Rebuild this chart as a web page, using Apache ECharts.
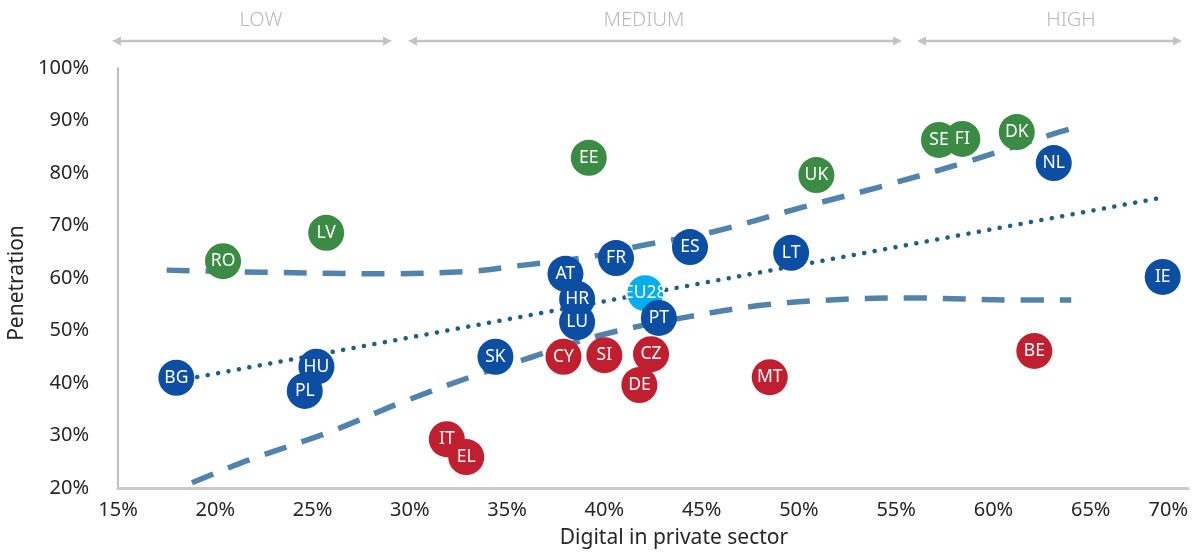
<!DOCTYPE html>
<html>
<head>
<meta charset="utf-8">
<script src="https://cdn.jsdelivr.net/npm/echarts@6/dist/echarts.min.js"></script>
<style>
  html, body { margin: 0; padding: 0; background: #ffffff; }
  #chart { width: 1203px; height: 553px; }
</style>
</head>
<body>
<div id="chart"></div>
<script>
// Country codes, in drawing order (later items sit on top)
const codes = ['BG','RO','LV','HU','PL','IT','EL','SK','EE','AT','HR','LU','CY','SI','FR','EU28','PT','CZ','DE','ES','MT','LT','UK','SE','FI','DK','NL','BE','IE'];
// Digital in private sector (%)
const digitalPrivate = [18.0,20.4,25.7,25.2,24.6,31.9,32.9,34.4,39.2,38.0,38.6,38.6,37.9,40.0,40.6,42.1,42.8,42.4,41.8,44.4,48.5,49.6,50.9,57.2,58.4,61.2,63.1,62.1,68.7];
// Penetration (%)
const penetration = [41.0,63.2,68.6,43.1,38.5,29.3,25.9,45.0,82.9,60.8,56.0,51.6,45.0,45.3,63.8,57.1,52.4,45.5,39.6,65.9,41.1,64.8,79.6,86.3,86.5,87.8,81.9,46.1,60.2];
// Cluster of each country
const cluster = ['b','g','g','b','b','r','r','b','g','b','b','b','r','r','b','eu','b','r','r','b','r','b','g','g','g','g','b','r','b'];

// Linear trend (start / end)
const trendX = [18.0, 68.8];
const trendY = [40.4, 75.4];
// Upper confidence band
const upperX = [17.5, 22.4, 28.9, 33.2, 35.5, 39.2, 41.8, 45.6, 50.2, 54.5, 58.6, 62.7, 64.3];
const upperY = [61.5, 61.1, 60.8, 61.3, 62.3, 64.0, 66.1, 68.8, 73.5, 77.7, 82.1, 87.0, 88.8];
// Lower confidence band
const lowerX = [18.8, 21.7, 25.9, 29.5, 33.7, 35.5, 39.7, 44.0, 48.3, 52.6, 55.8, 61.2, 64.0];
const lowerY = [21.0, 25.3, 30.7, 36.2, 41.9, 44.0, 49.0, 52.4, 54.9, 56.0, 56.2, 55.8, 55.8];

// Level thresholds on the x axis
const thresholds = [29.4, 55.7];
// Level names
const levels = ['LOW', 'MEDIUM', 'HIGH'];

// Axis ranges and ticks
const xMin = 15, xMax = 70, xStep = 5;
const yMin = 20, yMax = 100, yStep = 10;

const palette = { g: '#3b8b45', b: '#0b4ea2', r: '#c01f2f', eu: '#00aeef' };
const FONT = 'Noto Sans';

const pairs = (xs, ys) => xs.map((x, i) => [x, ys[i]]);

const points = codes.map((c, i) => ({
  name: c,
  value: [digitalPrivate[i], penetration[i]],
  itemStyle: { color: palette[cluster[i]], opacity: 1 }
}));

const chart = echarts.init(document.getElementById('chart'));

const bandLine = {
  type: 'line',
  smooth: 0.35,
  showSymbol: false,
  silent: true,
  z: 3,
  lineStyle: { color: '#5283ad', width: 5.5, type: [23, 16], cap: 'butt' }
};

// Annotation arrows above the plot
const arrowY = 41;
const arrowSpans = [[112, 392], [408, 902], [917, 1182]];
const labelX = [261, 644, 1071];
const gray = '#c3c3c3';
const graphics = [];
arrowSpans.forEach((s, i) => {
  graphics.push({
    type: 'line', silent: true,
    shape: { x1: s[0] + 6, y1: arrowY, x2: s[1] - 6, y2: arrowY },
    style: { stroke: gray, lineWidth: 2.5 }
  });
  graphics.push({
    type: 'polygon', silent: true,
    shape: { points: [[s[0], arrowY], [s[0] + 9, arrowY - 4.5], [s[0] + 9, arrowY + 4.5]] },
    style: { fill: gray }
  });
  graphics.push({
    type: 'polygon', silent: true,
    shape: { points: [[s[1], arrowY], [s[1] - 9, arrowY - 4.5], [s[1] - 9, arrowY + 4.5]] },
    style: { fill: gray }
  });
  graphics.push({
    type: 'text', silent: true,
    x: labelX[i], y: 20,
    style: {
      text: levels[i], fill: '#b9b9b9', font: '300 20px "' + FONT + '"',
      align: 'center', verticalAlign: 'middle'
    }
  });
});

chart.setOption({
  animation: false,
  backgroundColor: '#ffffff',
  textStyle: { fontFamily: FONT },
  grid: { left: 118, right: 15, top: 68, bottom: 65, containLabel: false, outerBoundsMode: 'none' },
  xAxis: {
    type: 'value',
    min: xMin, max: xMax, interval: xStep,
    name: 'Digital in private sector',
    nameLocation: 'middle',
    nameGap: 40,
    nameTextStyle: { fontSize: 21, color: '#262626', fontFamily: FONT, padding: [0, 0, 0, 42] },
    axisLine: { show: true, lineStyle: { color: '#c9c9c9', width: 3 } },
    axisTick: { show: false },
    splitLine: { show: false },
    axisLabel: {
      formatter: '{value}%', fontSize: 20, color: '#262626', margin: 12,
      fontFamily: FONT, alignMaxLabel: 'right'
    }
  },
  yAxis: {
    type: 'value',
    min: yMin, max: yMax, interval: yStep,
    name: 'Penetration',
    nameLocation: 'middle',
    nameGap: 90,
    nameRotate: 90,
    nameTextStyle: { fontSize: 21, color: '#262626', fontFamily: FONT, padding: [0, 10, 0, 0] },
    axisLine: { show: true, onZero: false, lineStyle: { color: '#a8a8a8', width: 1.5 } },
    axisTick: { show: false },
    splitLine: { show: false },
    axisLabel: { formatter: '{value}%', fontSize: 20, color: '#262626', margin: 29, fontFamily: FONT }
  },
  graphic: graphics,
  series: [
    {
      // vertical threshold bands
      type: 'scatter',
      data: [],
      silent: true,
      z: 1,
      markLine: {
        silent: true,
        symbol: ['none', 'none'],
        label: { show: false },
        lineStyle: { color: '#dcdcde', width: 9, type: 'solid' },
        data: thresholds.map(t => [{ coord: [t, yMin] }, { coord: [t, yMax + 1] }])
      }
    },
    Object.assign({}, bandLine, { name: 'upper', data: pairs(upperX, upperY) }),
    Object.assign({}, bandLine, { name: 'lower', data: pairs(lowerX, lowerY) }),
    {
      name: 'trend',
      type: 'line',
      showSymbol: false,
      silent: true,
      z: 3,
      data: pairs(trendX, trendY),
      lineStyle: { color: '#1f5e88', width: 4.5, type: [0.1, 10.5], cap: 'round' }
    },
    {
      name: 'countries',
      type: 'scatter',
      z: 5,
      symbolSize: 36,
      data: points,
      label: {
        show: true,
        position: 'inside',
        formatter: '{b}',
        color: '#ffffff',
        fontSize: 17.5,
        fontFamily: FONT
      }
    }
  ]
});
</script>
</body>
</html>
